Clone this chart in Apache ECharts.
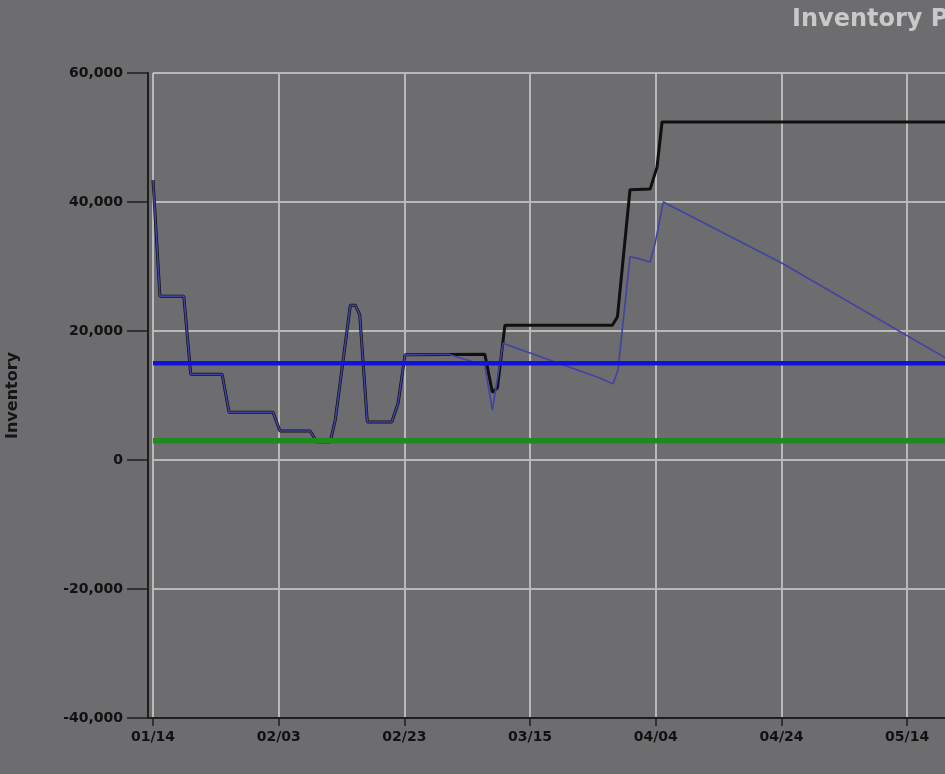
<!DOCTYPE html>
<html>
<head>
<meta charset="utf-8">
<script src="https://cdn.jsdelivr.net/npm/echarts@6/dist/echarts.min.js"></script>
<style>
html,body{margin:0;padding:0;background:#6d6c6e;}
#chart{width:945px;height:774px;}
</style>
</head>
<body>
<div id="chart"></div>
<script>
// x values are days after 01/14
const xTickLabels = ['01/14','02/03','02/23','03/15','04/04','04/24','05/14'];
const yTickValues = [-40000,-20000,0,20000,40000,60000];

const projectedDays   = [0, 1.1, 4.9, 6.0, 11.0, 12.1, 19.1, 20.2, 25.0, 26.1, 28.2, 29.0, 31.4, 32.2, 32.9, 34.1, 38.0, 39.0, 40.1, 52.8, 54.0, 54.8, 56.0, 73.1, 73.9, 75.9, 79.1, 80.2, 81.0, 130];
const projectedValues = [43400, 25400, 25400, 13300, 13300, 7400, 7400, 4500, 4500, 2800, 2800, 6200, 24000, 24000, 22500, 5900, 5900, 8800, 16300, 16400, 10500, 11200, 20900, 20900, 22200, 41900, 42000, 45400, 52400, 52400];

const availableDays   = [0, 1.1, 4.9, 6.0, 11.0, 12.1, 19.1, 20.2, 25.0, 26.1, 28.2, 29.0, 31.4, 32.2, 32.9, 34.1, 38.0, 39.0, 40.1, 47.0, 52.0, 52.8, 54.0, 55.7, 60.0, 71.1, 73.2, 74.0, 75.9, 77.0, 79.1, 79.9, 81.2, 100.1, 126.5];
const availableValues = [43400, 25400, 25400, 13300, 13300, 7400, 7400, 4500, 4500, 2800, 2800, 6200, 24000, 24000, 22500, 5900, 5900, 8800, 16300, 16400, 14900, 14600, 7750, 18100, 16600, 12700, 11800, 14000, 31500, 31300, 30700, 33600, 40000, 30500, 15600];

const maxLevelDays = [0, 130];
const maxLevelValues = [15000, 15000];
const safetyDays = [0, 130];
const safetyValues = [3000, 3000];

const pairs = (xs, ys) => xs.map((x, i) => [x, ys[i]]);

const chart = echarts.init(document.getElementById('chart'));
const FONT = "'DejaVu Sans', Verdana, sans-serif";
const AXIS = '#1e1e1e';
const GRIDC = '#b9b9b9';
const yMin = yTickValues[0], yMax = yTickValues[yTickValues.length - 1];
chart.setOption({
  animation: false,
  backgroundColor: '#6d6c6e',
  title: {
    text: 'Inventory Projection',
    left: 787, top: 3,
    textStyle: {color: '#c9c9c9', fontSize: 24, fontWeight: 'bold', fontFamily: FONT}
  },
  grid: [
    {left: 148, top: 73, width: 822, height: 645, containLabel: false, outerBoundsMode: 'none'},
    {left: 153, top: 73, width: 817, height: 645, containLabel: false, outerBoundsMode: 'none'}
  ],
  xAxis: [
    {
      gridIndex: 0, type: 'value', min: 0, max: 1,
      axisLine: {show: true, onZero: false, lineStyle: {color: AXIS, width: 2}},
      axisTick: {show: false}, axisLabel: {show: false}, splitLine: {show: false}
    },
    {
      gridIndex: 1, type: 'value', min: 0, max: 130, interval: 20,
      axisLine: {show: false, onZero: false},
      axisTick: {show: true, length: 8, lineStyle: {color: AXIS, width: 1.5}},
      axisLabel: {
        margin: 12, color: '#111', fontSize: 14, fontWeight: 'bold', fontFamily: FONT,
        formatter: v => (v % 20 === 0 && xTickLabels[v / 20] !== undefined) ? xTickLabels[v / 20] : ''
      },
      splitLine: {show: true, lineStyle: {color: GRIDC, width: 2}}
    }
  ],
  yAxis: [
    {
      gridIndex: 0, type: 'value', min: yMin, max: yMax, interval: 20000,
      name: 'Inventory', nameLocation: 'middle', nameRotate: 90, nameGap: 127,
      nameTextStyle: {color: '#151515', fontSize: 16, fontWeight: 'bold', fontFamily: FONT},
      axisLine: {show: true, lineStyle: {color: AXIS, width: 2}},
      axisTick: {show: true, length: 21, lineStyle: {color: AXIS, width: 1.5}},
      axisLabel: {
        margin: 25, color: '#111', fontSize: 14, fontWeight: 'bold', fontFamily: FONT,
        formatter: v => v.toLocaleString('en-US')
      },
      splitLine: {show: false}
    },
    {
      gridIndex: 1, type: 'value', min: yMin, max: yMax, interval: 20000,
      axisLine: {show: false}, axisTick: {show: false}, axisLabel: {show: false},
      splitLine: {show: true, lineStyle: {color: GRIDC, width: 2}}
    }
  ],
  series: [
    {type: 'line', name: 'Projected', xAxisIndex: 1, yAxisIndex: 1, data: pairs(projectedDays, projectedValues),
     showSymbol: false, symbol: 'none', lineStyle: {color: '#101010', width: 3}, z: 3},
    {type: 'line', name: 'Available', xAxisIndex: 1, yAxisIndex: 1, data: pairs(availableDays, availableValues),
     showSymbol: false, symbol: 'none', lineStyle: {color: '#4242a4', width: 1.6}, z: 4},
    {type: 'line', name: 'Max', xAxisIndex: 1, yAxisIndex: 1, data: pairs(maxLevelDays, maxLevelValues),
     showSymbol: false, symbol: 'none', lineStyle: {color: '#1212dc', width: 4.5}, z: 5},
    {type: 'line', name: 'Safety', xAxisIndex: 1, yAxisIndex: 1, data: pairs(safetyDays, safetyValues),
     showSymbol: false, symbol: 'none', lineStyle: {color: '#1f8a1f', width: 5.5}, z: 5}
  ]
});
</script>
</body>
</html>
